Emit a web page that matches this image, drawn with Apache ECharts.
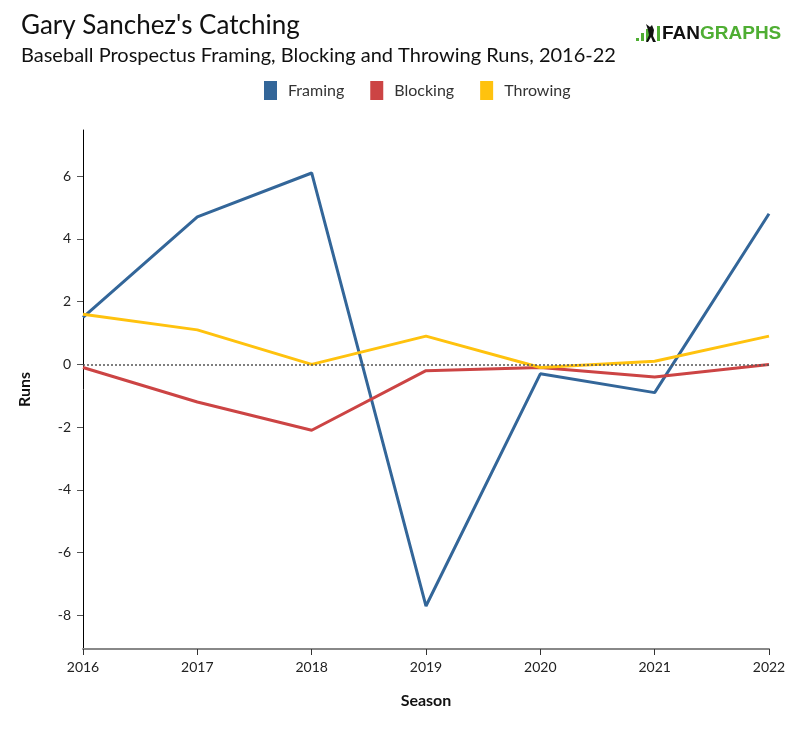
<!DOCTYPE html>
<html>
<head>
<meta charset="utf-8">
<script src="https://cdn.jsdelivr.net/npm/echarts@6/dist/echarts.min.js"></script>
<style>html,body{margin:0;padding:0;background:#fff}#c{width:800px;height:730px}</style>
</head>
<body>
<div id="c"></div>
<script>
const seasons = ['2016','2017','2018','2019','2020','2021','2022'];
const framing  = [1.5, 4.7, 6.1, -7.7, -0.3, -0.9, 4.8];
const blocking = [-0.1, -1.2, -2.1, -0.2, -0.1, -0.4, 0.0];
const throwing = [1.6, 1.1, 0.0, 0.9, -0.1, 0.1, 0.9];
const yTicks = [-8, -6, -4, -2, 0, 2, 4, 6];

const FONT = 'Lato, "Noto Sans", sans-serif';
const chart = echarts.init(document.getElementById('c'), null, {renderer: 'canvas'});

function series(name, data, color, extra) {
  return Object.assign({
    name: name, type: 'line', data: data, symbol: 'none', smooth: false,
    lineStyle: {color: color, width: 3}, itemStyle: {color: color}
  }, extra || {});
}

chart.setOption({
  animation: false,
  textStyle: {fontFamily: FONT},
  grid: {left: 83, right: 31, top: 130, bottom: 81, containLabel: false},
  legend: {
    top: 76, left: 259, itemWidth: 13, itemHeight: 19, itemGap: 26,
    icon: 'rect',
    textStyle: {fontFamily: FONT, fontSize: 16, color: '#333', padding: [0, 0, 0, 6]},
    data: ['Framing', 'Blocking', 'Throwing']
  },
  graphic: [
    {type: 'text', left: 21, top: 13, style: {text: "Gary Sanchez's Catching", font: '26px ' + FONT, fill: '#111'}},
    {type: 'text', left: 21, top: 46, style: {text: 'Baseball Prospectus Framing, Blocking and Throwing Runs, 2016-22', font: '20px ' + FONT, fill: '#111'}},
    {type: 'rect', shape: {x: 636, y: 38, width: 3, height: 3}, style: {fill: '#4fae33'}},
    {type: 'rect', shape: {x: 641, y: 33, width: 3, height: 8}, style: {fill: '#4fae33'}},
    {type: 'rect', shape: {x: 646, y: 29, width: 3, height: 12}, style: {fill: '#4fae33'}},
    {type: 'rect', shape: {x: 657, y: 26, width: 3, height: 15}, style: {fill: '#4fae33'}},
    {type: 'polygon', shape: {points: [[646,24],[650,27],[652,25],[654,30],[653,36],[656,42],[653,42],[651,37],[648,42],[646,42],[649,35],[648,30]]}, style: {fill: '#111'}},
    {type: 'text', left: 662, top: 24, style: {
      rich: {a: {font: 'bold 19px "Liberation Sans", Arial, sans-serif', fill: '#111'},
             b: {font: 'bold 19px "Liberation Sans", Arial, sans-serif', fill: '#4fae33'}},
      text: '{a|FAN}{b|GRAPHS}'}}
  ],
  xAxis: {
    type: 'category', data: seasons, boundaryGap: false,
    name: 'Season', nameLocation: 'middle', nameGap: 44,
    nameTextStyle: {fontFamily: FONT, fontSize: 16, fontWeight: 'bold', color: '#111'},
    axisLine: {onZero: false, lineStyle: {color: '#888', width: 2}},
    axisTick: {show: true, length: 6, alignWithLabel: true, lineStyle: {color: '#333', width: 1}},
    axisLabel: {fontFamily: FONT, fontSize: 14, color: '#222', margin: 11, showMinLabel: true, showMaxLabel: true},
    splitLine: {show: false}
  },
  yAxis: {
    type: 'value', min: -9.07, max: 7.47,
    name: 'Runs', nameLocation: 'middle', nameGap: 50, nameRotate: 90,
    nameTextStyle: {fontFamily: FONT, fontSize: 16, fontWeight: 'bold', color: '#111'},
    axisLine: {show: true, lineStyle: {color: '#000', width: 1}},
    axisTick: {show: true, length: 6, customValues: yTicks, lineStyle: {color: '#555', width: 1}},
    axisLabel: {fontFamily: FONT, fontSize: 14, color: '#222', margin: 12, customValues: yTicks},
    splitLine: {show: false}
  },
  series: [
    series('Framing', framing, '#336699', {
      markLine: {
        silent: true, symbol: 'none', label: {show: false},
        lineStyle: {type: [2, 2], color: '#555', width: 1.5},
        data: [{yAxis: 0}]
      }
    }),
    series('Blocking', blocking, '#cc4444'),
    series('Throwing', throwing, '#ffc20e')
  ]
});
</script>
</body>
</html>
